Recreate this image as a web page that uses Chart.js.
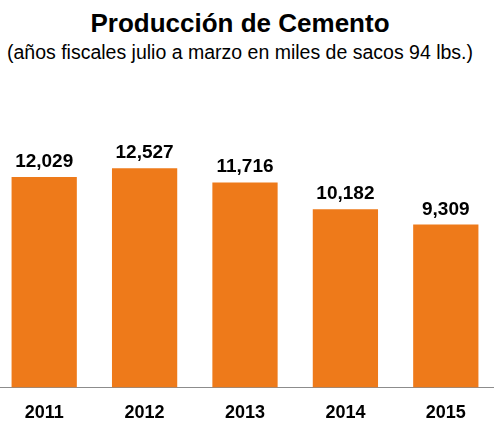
<!DOCTYPE html>
<html>
<head>
<meta charset="utf-8">
<script src="https://cdn.jsdelivr.net/npm/chart.js@4"></script>
<style>
  html, body { margin: 0; padding: 0; background: #fff; }
  #wrap { position: relative; width: 494px; height: 421px; overflow: hidden; font-family: "Liberation Sans", Arial, sans-serif; }
  #title { position: absolute; left: 0; top: 8px; width: 480px; text-align: center; font-weight: bold; font-size: 26px; color: #000; line-height: 30px; }
  #subtitle { position: absolute; left: 0; top: 41px; width: 480px; text-align: center; font-size: 19.5px; color: #000; line-height: 22px; }
  #c { position: absolute; left: -6px; top: 0; }
</style>
</head>
<body>
<div id="wrap">
  <div id="title">Producción de Cemento</div>
  <div id="subtitle">(años fiscales julio a marzo en miles de sacos 94 lbs.)</div>
  <canvas id="c" width="502" height="439"></canvas>
</div>
<script>
const categories = ["2011", "2012", "2013", "2014", "2015"];
const production = [12029, 12527, 11716, 10182, 9309];

const valueLabels = {
  id: 'valueLabels',
  afterDatasetsDraw(chart) {
    const ctx = chart.ctx;
    const meta = chart.getDatasetMeta(0);
    ctx.save();
    ctx.font = 'bold 19px "Liberation Sans", Arial, sans-serif';
    ctx.fillStyle = '#000';
    ctx.textAlign = 'center';
    ctx.textBaseline = 'alphabetic';
    meta.data.forEach((bar, i) => {
      ctx.fillText(production[i].toLocaleString('en-US'), bar.x, bar.y - 10);
    });
    ctx.restore();
  }
};

new Chart(document.getElementById('c'), {
  type: 'bar',
  data: {
    labels: categories,
    datasets: [{
      data: production,
      backgroundColor: '#EE7A1A',
      borderWidth: 0,
      barPercentage: 0.65,
      categoryPercentage: 1.0
    }]
  },
  options: {
    responsive: false,
    animation: false,
    devicePixelRatio: 1,
    layout: { padding: { top: 125, left: 0, right: 0, bottom: 0 } },
    plugins: { legend: { display: false }, title: { display: false }, tooltip: { enabled: false } },
    scales: {
      x: {
        grid: { display: false, drawTicks: false },
        border: { display: true, color: '#8c8c8c', width: 1 },
        ticks: { color: '#000', font: { family: '"Liberation Sans", Arial, sans-serif', size: 18, weight: 'bold' }, padding: 15 }
      },
      y: {
        display: false,
        min: 0,
        max: 15000
      }
    }
  },
  plugins: [valueLabels]
});
</script>
</body>
</html>
